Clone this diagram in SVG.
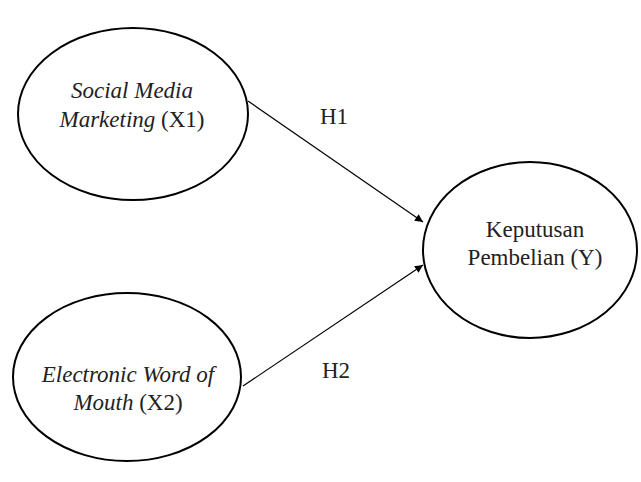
<svg xmlns="http://www.w3.org/2000/svg" width="641" height="482" viewBox="0 0 641 482">
<style>
.node{fill:#fff;stroke:#000;stroke-width:2}
.t{font-family:"Liberation Serif","Times New Roman",serif;font-size:23px;fill:#222;text-anchor:middle}
.i{font-style:italic}
.conn{stroke:#000;stroke-width:1.2;fill:none}
</style>
<defs>
<marker id="arr" viewBox="0 0 10 10" refX="10" refY="5" markerWidth="10" markerHeight="8" markerUnits="userSpaceOnUse" orient="auto">
<path d="M0,0 L10,5 L0,10 z" fill="#000"/>
</marker>
</defs>
<rect width="641" height="482" fill="#fff"/>
<g id="connectors">
<line class="conn" x1="248" y1="101" x2="423" y2="222" marker-end="url(#arr)"/>
<line class="conn" x1="243" y1="386" x2="423" y2="265" marker-end="url(#arr)"/>
<text class="t" x="334" y="124">H1</text>
<text class="t" x="336" y="378">H2</text>
</g>
<g id="x1">
<ellipse class="node" cx="133" cy="114" rx="115" ry="86"/>
<text class="t" x="132" y="98"><tspan class="i">Social Media</tspan></text>
<text class="t" x="132" y="127"><tspan class="i">Marketing</tspan> (X1)</text>
</g>
<g id="x2">
<ellipse class="node" cx="127" cy="377" rx="114" ry="84"/>
<text class="t" x="128" y="382"><tspan class="i">Electronic Word of</tspan></text>
<text class="t" x="128" y="410"><tspan class="i">Mouth</tspan> (X2)</text>
</g>
<g id="y">
<ellipse class="node" cx="530" cy="250" rx="107" ry="88"/>
<text class="t" x="535" y="237">Keputusan</text>
<text class="t" x="535" y="265">Pembelian (Y)</text>
</g>
</svg>
